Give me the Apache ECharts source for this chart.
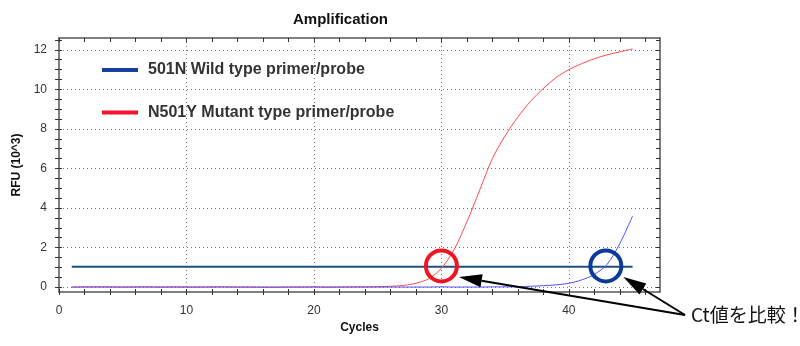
<!DOCTYPE html>
<html><head><meta charset="utf-8">
<script src="https://cdn.jsdelivr.net/npm/echarts@6/dist/echarts.min.js"></script>
<style>html,body{margin:0;padding:0;background:#fff}#c{width:800px;height:346px}</style>
</head><body><div id="c"></div>
<script>
// ---- data ----
const cycles = [1,2,3,4,5,6,7,8,9,10,11,12,13,14,15,16,17,18,19,20,21,22,23,24,25,26,27,28,29,30,31,32,33,34,35,36,37,38,39,40,41,42,43,44,45];
const mutantRFU = [0.00,0.01,0.00,0.01,0.00,0.01,0.00,0.00,0.01,0.00,0.00,0.01,0.00,0.00,0.00,-0.01,-0.01,0.00,0.00,0.00,-0.01,0.00,0.01,0.01,0.02,0.04,0.08,0.19,0.42,0.95,1.9,3.3,4.9,6.5,7.65,8.6,9.4,10.05,10.6,11.0,11.3,11.55,11.75,11.9,12.05];
const wildRFU = [0.00,0.00,0.01,0.00,0.00,0.00,0.01,0.00,0.00,0.00,0.00,0.00,0.01,0.00,0.00,0.00,0.00,0.00,0.00,0.01,0.00,0.00,0.00,0.00,0.00,0.00,0.00,0.00,0.00,0.01,0.00,0.00,0.00,0.01,0.01,0.02,0.04,0.07,0.11,0.19,0.36,0.64,1.15,2.2,3.6];
const thresholdRFU = 1.03;
const thresholdCycles = [1, 45];
const ctMutant = [30, 1.07];
const ctWild = [42.9, 1.07];
const seriesNames = ['501N Wild type primer/probe', 'N501Y Mutant type primer/probe'];
const xTickValues = [0,2,4,6,8,10,12,14,16,18,20,22,24,26,28,30,32,34,36,38,40,42,44,46];
const yTickValues = [0,0.5,1,1.5,2,2.5,3,3.5,4,4.5,5,5.5,6,6.5,7,7.5,8,8.5,9,9.5,10,10.5,11,11.5,12,12.5];
const titleText = 'Amplification';
const xName = 'Cycles';
const yName = 'RFU (10^3)';
const noteText = 'Ct値を比較！';

// ---- chart ----
const F = '"Liberation Sans", Arial, sans-serif';
const X_MIN = 0, X_MAX = 47.15, Y_MIN = -0.25, Y_MAX = 12.6;
const chart = echarts.init(document.getElementById('c'), null, {renderer: 'canvas'});

function tickAxis(pos, values, inside, len, showLine) {
  const vert = pos === 'left' || pos === 'right';
  return {
    type: 'value', position: pos, min: vert ? Y_MIN : X_MIN, max: vert ? Y_MAX : X_MAX,
    axisLine: {show: !!showLine, onZero: false, lineStyle: {color: '#555', width: 1.5}},
    axisLabel: {show: false}, splitLine: {show: false},
    axisTick: {show: true, inside: inside, length: len, customValues: values, lineStyle: {color: '#333', width: 1}}
  };
}

const option = {
  animation: false,
  backgroundColor: '#fff',
  title: {text: titleText, left: 293, top: 12, padding: 0,
    textStyle: {fontFamily: F, fontSize: 15, fontWeight: 'bold', color: '#111'}},
  legend: [
    {left: 102, top: 62, padding: 0, itemWidth: 36, itemHeight: 4, icon: 'rect', selectedMode: false,
     data: [{name: seriesNames[0], itemStyle: {color: '#1a3e9e', opacity: 1}}],
     textStyle: {fontFamily: F, fontSize: 16, fontWeight: 'bold', color: '#333', padding: [0, 0, 0, 5]}},
    {left: 102, top: 104.5, padding: 0, itemWidth: 36, itemHeight: 4, icon: 'rect', selectedMode: false,
     data: [{name: seriesNames[1], itemStyle: {color: '#f5142e', opacity: 1}}],
     textStyle: {fontFamily: F, fontSize: 16, fontWeight: 'bold', color: '#333', padding: [0, 0, 0, 5]}}
  ],
  grid: {left: 59, right: 140, top: 38, bottom: 54},
  xAxis: [
    {type: 'value', position: 'bottom', min: X_MIN, max: X_MAX, interval: 10,
     name: xName, nameLocation: 'middle', nameGap: 30,
     nameTextStyle: {fontFamily: F, fontSize: 12, fontWeight: 'bold', color: '#111'},
     axisLine: {show: true, onZero: false, lineStyle: {color: '#555', width: 1.5}},
     axisTick: {show: false},
     axisLabel: {fontFamily: F, fontSize: 12, color: '#333', margin: 13, showMaxLabel: false},
     splitLine: {show: true, showMinLine: false, showMaxLine: false, lineStyle: {color: '#777', width: 1, type: [1, 3]}}},
    tickAxis('bottom', xTickValues, false, 3),
    tickAxis('bottom', xTickValues, true, 3),
    tickAxis('top', xTickValues, true, 4, true)
  ],
  yAxis: [
    {type: 'value', position: 'left', min: Y_MIN, max: Y_MAX, minInterval: 2, maxInterval: 2,
     name: yName, nameLocation: 'middle', nameGap: 34,
     nameTextStyle: {fontFamily: F, fontSize: 12, fontWeight: 'bold', color: '#111'},
     axisLine: {show: true, onZero: false, lineStyle: {color: '#555', width: 1.5}},
     axisTick: {show: false},
     axisLabel: {fontFamily: F, fontSize: 12, color: '#333', margin: 12, showMinLabel: false, showMaxLabel: false},
     splitLine: {show: true, showMinLine: false, showMaxLine: false, lineStyle: {color: '#777', width: 1, type: [1, 3]}}},
    tickAxis('left', yTickValues, false, 4),
    tickAxis('left', yTickValues, true, 3),
    tickAxis('right', yTickValues, true, 4, true)
  ],
  series: [
    {name: 'Threshold', type: 'line', showSymbol: false, silent: true, z: 2,
     data: thresholdCycles.map(c => [c, thresholdRFU]),
     lineStyle: {color: '#1f4f7c', width: 2}, itemStyle: {color: '#1f4f7c'}},
    {name: seriesNames[1], type: 'line', showSymbol: false, smooth: 0.3, z: 3,
     data: cycles.map((c, i) => [c, mutantRFU[i]]),
     lineStyle: {color: '#ff4a4a', width: 1}, itemStyle: {color: '#ff4a4a'}},
    {name: seriesNames[0], type: 'line', showSymbol: false, smooth: 0.3, z: 3,
     data: cycles.map((c, i) => [c, wildRFU[i]]),
     lineStyle: {color: '#5050ff', width: 1}, itemStyle: {color: '#5050ff'}},
    {name: 'CtMutant', type: 'scatter', symbol: 'circle', symbolSize: 31, z: 5, silent: true,
     data: [ctMutant],
     itemStyle: {color: 'rgba(0,0,0,0)', borderColor: '#f01423', borderWidth: 4, opacity: 1}},
    {name: 'CtWild', type: 'scatter', symbol: 'circle', symbolSize: 31, z: 5, silent: true,
     data: [ctWild],
     itemStyle: {color: 'rgba(0,0,0,0)', borderColor: '#0c3a9c', borderWidth: 4, opacity: 1}}
  ]
};
chart.setOption(option);

// ---- annotation arrows (anchored to the circles via the chart's scales) ----
const tail = [685, 315];
function arrow(tip) {
  const dx = tail[0] - tip[0], dy = tail[1] - tip[1];
  const d = Math.hypot(dx, dy), ux = dx / d, uy = dy / d;
  const L = 23, W = 6.5;
  const base = [tip[0] + ux * L, tip[1] + uy * L];
  return [
    {type: 'line', shape: {x1: tail[0], y1: tail[1], x2: base[0], y2: base[1]}, style: {stroke: '#000', lineWidth: 2}, z: 10},
    {type: 'polygon', shape: {points: [tip, [base[0] - uy * W, base[1] + ux * W], [base[0] + uy * W, base[1] - ux * W]]}, style: {fill: '#000'}, z: 10}
  ];
}
const pM = chart.convertToPixel({gridIndex: 0}, ctMutant);
const pW = chart.convertToPixel({gridIndex: 0}, ctWild);
const els = [].concat(
  arrow([pM[0] + 17.5, pM[1] + 11]),
  arrow([pW[0] + 17.5, pW[1] + 11]),
  [{type: 'text', x: 691, y: 315, z: 10,
    style: {text: noteText, fontSize: 19, fontFamily: '"Noto Sans CJK JP", sans-serif', fill: '#111', verticalAlign: 'middle'}}]
);
chart.setOption({graphic: {elements: els}});
</script>
</body></html>
